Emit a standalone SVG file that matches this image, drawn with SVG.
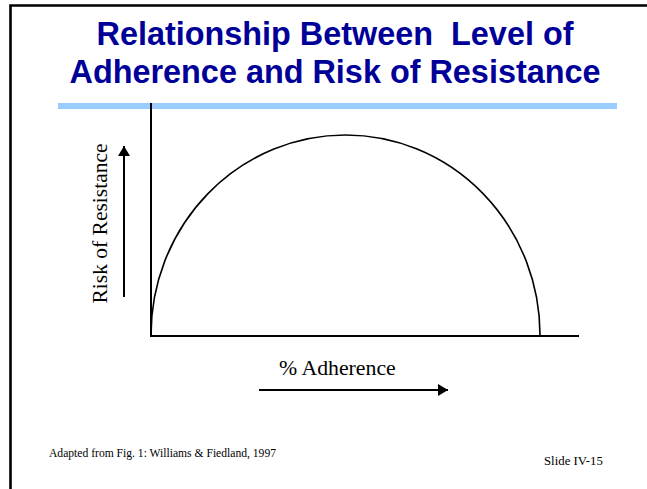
<svg xmlns="http://www.w3.org/2000/svg" width="647" height="489" viewBox="0 0 647 489">
<defs>
<style>
.title{font-family:"Liberation Sans",Arial,sans-serif;font-weight:bold;font-size:32.4px;fill:#000099;text-anchor:middle}
.serif{font-family:"Liberation Serif","Times New Roman",serif;fill:#000}
.line{stroke:#000;fill:none}
</style>
<marker id="arr" viewBox="0 0 10 12" refX="10" refY="6" markerWidth="10" markerHeight="12" markerUnits="userSpaceOnUse" orient="auto">
<path d="M0,0 L10,6 L0,12 Z" fill="#000"/>
</marker>
</defs>
<rect width="647" height="489" fill="#fff"/>
<path d="M10.5,489 V5.5 H647" class="line" stroke-width="2.6"/>
<g id="title">
<text class="title" x="335" y="45" xml:space="preserve">Relationship Between  Level of</text>
<text class="title" x="335" y="83">Adherence and Risk of Resistance</text>
</g>
<rect id="title-bar" x="58" y="103" width="559" height="6" fill="#99CCFF"/>
<g id="axes">
<path d="M151,103 V336 H579" class="line" stroke-width="2"/>
</g>
<g id="curve">
<path d="M151,335 A194.5,200 0 0 1 540,335" class="line" stroke-width="1.6"/>
</g>
<g id="connectors">
<line x1="124" y1="297" x2="124" y2="146" class="line" stroke-width="2" marker-end="url(#arr)"/>
<line x1="259" y1="390" x2="448" y2="390" class="line" stroke-width="2" marker-end="url(#arr)"/>
</g>
<g id="y-label">
<text class="serif" font-size="21.5" text-anchor="middle" transform="translate(107,223.5) rotate(-90)">Risk of Resistance</text>
</g>
<g id="x-label">
<text class="serif" font-size="21.8" x="279" y="375">% Adherence</text>
</g>
<g id="footer">
<text class="serif" font-size="11.6" x="49" y="457">Adapted from Fig. 1: Williams &amp; Fiedland, 1997</text>
<text class="serif" font-size="12.8" x="544" y="465">Slide IV-15</text>
</g>
</svg>
